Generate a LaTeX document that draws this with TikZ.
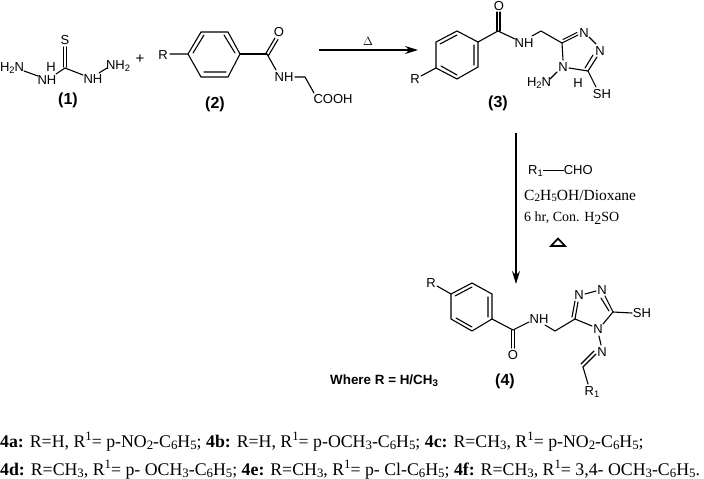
\documentclass[tikz,border=0pt]{standalone}
\usepackage{fontspec}
\setmainfont{Liberation Sans}
\newfontfamily\tms{Liberation Serif}
\usetikzlibrary{arrows.meta}
\tikzset{
 atom/.style={inner sep=0pt,font=\fontsize{13}{15}\selectfont},
 lab/.style={inner sep=0pt,font=\fontsize{16}{18}\bfseries\selectfont},
 bond/.style={line width=1.1pt,line cap=round},
 arr/.style={line width=1.3pt,-{Stealth[length=13pt,width=8pt]}},
 reag/.style={inner sep=0pt,anchor=west,font=\fontsize{14}{16}\tms\selectfont},
 captext/.style={inner sep=0pt,anchor=base west,font=\fontsize{17.8}{20}\tms\selectfont}
}
\newcommand{\bb}[1]{\textbf{#1}}
\newcommand{\sbs}[1]{\raisebox{-0.25ex}{\scalebox{0.72}{#1}}}
\newcommand{\sps}[1]{\raisebox{0.8ex}{\scalebox{0.72}{#1}}}
\begin{document}
\begin{tikzpicture}[x=1pt,y=-1pt]
\useasboundingbox (0,0) rectangle (704,479);
% compound 1
\node[atom] (a1) at (12,68) {H\sbs{2}N};
\node[atom] (a2) at (47,80) {NH};
\node[atom] (a3) at (51,67.5) {H};
\coordinate (c1) at (65,68);
\node[atom] (s1) at (65,40) {S};
\node[atom] (a4) at (93,79) {NH};
\node[atom] (a5) at (118,66) {NH\sbs{2}};
\draw[bond] (24,71) -- (38,76);
\draw[bond] (56,74) -- (c1) -- (83,75);
\draw[bond] (63.5,47) -- (63.5,67) (66.5,47) -- (66.5,67);
\draw[bond] (99,73) -- (107,68);
\node[atom,font=\fontsize{15}{16}\selectfont] (plus) at (140,59) {+};
\node[lab] (l1) at (68,100) {(1)};
% compound 2
\node[atom] (r2) at (163,55) {R};
\draw[bond] (170,54) -- (188,54) (188,54) -- (201,32) -- (228,32) -- (240,54) -- (228,77) -- (201,77) -- cycle;
\draw[bond] (193,53) -- (204,35) (224,35) -- (235,53) (204,72) -- (226,72);
\draw[bond] (240,54) -- (267,54);
\draw[bond] (265.5,54) -- (275,38) (268.5,55.5) -- (278,39.5);
\node[atom] (o2) at (279,32) {O};
\draw[bond] (267,54) -- (276,70);
\node[atom] (n2) at (284,77) {NH};
\draw[bond] (295,77) -- (305,77) -- (314,93);
\node[atom] (cooh) at (333,99) {COOH};
\node[lab] (l2) at (215,104) {(2)};
% arrow 1
\coordinate (ar1) at (319,50);
\coordinate (ar2) at (418,50);
\draw[arr] (ar1) -- (ar2);
\node[inner sep=0pt,font=\fontsize{13}{14}\selectfont] (d1) at (368,41) {$\Delta$};
% compound 3
\node[atom] (o3) at (499,6) {O};
\draw[bond] (497,12) -- (497,31) (500,12) -- (500,31);
\draw[bond] (436,42) -- (457,31) -- (478,42) -- (478,67) -- (457,79) -- (436,68) -- cycle;
\draw[bond] (440,44) -- (457,35) (474,45) -- (474,65) (441,66) -- (457,75);
\draw[bond] (478,42) -- (498,31) -- (515,39);
\node[atom] (n3) at (524,43) {NH};
\draw[bond] (532,36) -- (541,31) -- (562,43);
\node[atom] (nt1) at (584,33) {N};
\node[atom] (nt2) at (600,51) {N};
\node[atom] (nt3) at (563,67) {N};
\draw[bond] (562,43) -- (578,35) (563,39.5) -- (577,32.5);
\draw[bond] (589,37) -- (596,44);
\draw[bond] (597,57) -- (588,71) (593,55) -- (585,68);
\draw[bond] (588,71) -- (569,68);
\draw[bond] (562,43) -- (563,60);
\node[atom] (h2n3) at (539,83) {H\sbs{2}N};
\draw[bond] (557,72) -- (550,79);
\node[atom] (h3) at (578,83) {H};
\draw[bond] (588,71) -- (596,87);
\node[atom] (sh3) at (602,94) {SH};
\node[atom] (r3) at (415,79) {R};
\draw[bond] (421,76) -- (436,68);
\node[lab] (l3) at (498,103) {(3)};
% arrow 2
\coordinate (ar3) at (516,133);
\coordinate (ar4) at (516,284);
\draw[arr] (ar3) -- (ar4);
\node[atom,anchor=west] (r1cho) at (528,171) {R\sbs{1}\rule[0.3em]{21pt}{0.8pt}CHO};
\node[reag] (solv) at (524,196) {\fontsize{15.5}{17}\selectfont C\sbs{2}H\sbs{5}OH/Dioxane};
\node[reag] (cond) at (524,218) {6 hr, Con. H\raisebox{-0.4ex}{2}SO};
\draw[line width=1.7pt] (551,246) -- (558,238.5) -- (565,246) -- cycle;
% compound 4
\node[atom] (r4) at (431,283) {R};
\draw[bond] (437,286) -- (451,294);
\draw[bond] (451,294) -- (472,283) -- (492,294) -- (492,319) -- (472,331) -- (451,319) -- cycle;
\draw[bond] (455,296) -- (472,287) (488,297) -- (488,317) (456,318) -- (472,327);
\draw[bond] (492,319) -- (513,330) -- (529,322);
\draw[bond] (511.5,330) -- (511.5,348) (514.5,330) -- (514.5,348);
\node[atom] (o4) at (513,355) {O};
\node[atom] (n4) at (539,319) {NH};
\draw[bond] (545,325) -- (555,331) -- (575,319);
\node[atom] (nt4) at (579,295) {N};
\node[atom] (nt5) at (602,290) {N};
\node[atom] (nt6) at (598,329) {N};
\draw[bond] (575,319) -- (578,302) (572,317) -- (575,301);
\draw[bond] (585,294) -- (596,291);
\draw[bond] (605,296) -- (613,312) (601,298) -- (609,311);
\draw[bond] (613,312) -- (603,324);
\draw[bond] (575,319) -- (592,326);
\draw[bond] (613,312) -- (632,313);
\node[atom] (sh4) at (642,313) {SH};
\draw[bond] (599,336) -- (601,345);
\node[atom] (n5) at (602,352) {N};
\draw[bond] (596,354) -- (583,367) (594,351) -- (581,364);
\draw[bond] (583,367) -- (588,384);
\node[atom] (r14) at (592,392) {R\sbs{1}};
\node[lab] (l4) at (505,381) {(4)};
\node[inner sep=0pt,anchor=west,font=\fontsize{13.4}{15}\bfseries\selectfont] (where) at (330,381) {Where R = H/CH\sbs{3}};
% captions
\node[captext] (t1) at (0,447) {\bb{4a:} R=H, R\sps{1}= p-NO\sbs{2}-C\sbs{6}H\sbs{5}; \bb{4b:} R=H, R\sps{1}= p-OCH\sbs{3}-C\sbs{6}H\sbs{5}; \bb{4c:} R=CH\sbs{3}, R\sps{1}= p-NO\sbs{2}-C\sbs{6}H\sbs{5};};
\node[captext] (t2) at (0,475) {\bb{4d:} R=CH\sbs{3}, R\sps{1}= p- OCH\sbs{3}-C\sbs{6}H\sbs{5}; \bb{4e:} R=CH\sbs{3}, R\sps{1}= p- Cl-C\sbs{6}H\sbs{5}; \bb{4f:} R=CH\sbs{3}, R\sps{1}= 3,4- OCH\sbs{3}-C\sbs{6}H\sbs{5}.};
\end{tikzpicture}
\end{document}
